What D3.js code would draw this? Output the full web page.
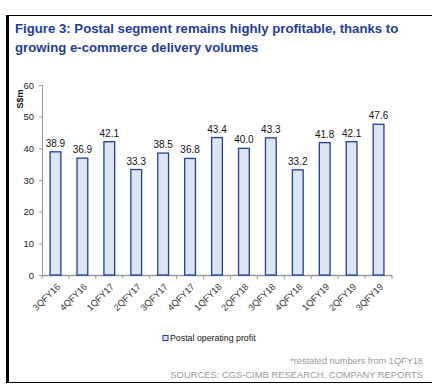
<!DOCTYPE html>
<html>
<head>
<meta charset="utf-8">
<script src="https://cdn.jsdelivr.net/npm/d3@7"></script>
<style>
  body { margin: 0; background: #fff; }
  svg text { font-family: Arial, "Liberation Sans", sans-serif; }
</style>
</head>
<body>
<div id="chart"></div>
<script>
// chart data
var quarters = ["3QFY16", "4QFY16", "1QFY17", "2QFY17", "3QFY17", "4QFY17", "1QFY18",
  "2QFY18", "3QFY18", "4QFY18", "1QFY19", "2QFY19", "3QFY19"];
var profit = [38.9, 36.9, 42.1, 33.3, 38.5, 36.8, 43.4, 40.0, 43.3, 33.2, 41.8, 42.1, 47.6];
var yTicks = [0, 10, 20, 30, 40, 50, 60];

var svgWidth = 432;
var svgHeight = 392;

var svg = d3.select("#chart")
  .append("svg")
  .attr("width", svgWidth)
  .attr("height", svgHeight);

// frame
svg.append("line")
  .attr("x1", 7).attr("x2", svgWidth)
  .attr("y1", 15.5).attr("y2", 15.5)
  .attr("stroke", "#000").attr("stroke-width", 1);
svg.append("line")
  .attr("x1", 7).attr("x2", svgWidth)
  .attr("y1", 382.5).attr("y2", 382.5)
  .attr("stroke", "#000").attr("stroke-width", 1);
svg.append("rect")
  .attr("x", 6).attr("y", 15)
  .attr("width", 3).attr("height", 368)
  .attr("fill", "#000");

// title
var title = svg.append("text")
  .attr("x", 15)
  .attr("fill", "#1f3c96")
  .attr("font-size", 13.2)
  .attr("font-weight", "bold");
title.append("tspan").attr("x", 15).attr("y", 33)
  .text("Figure 3: Postal segment remains highly profitable, thanks to");
title.append("tspan").attr("x", 15).attr("y", 52)
  .text("growing e-commerce delivery volumes");

var x = d3.scaleBand()
  .domain(quarters)
  .range([42, 392])
  .paddingInner(0.6)
  .paddingOuter(0.3);

var y = d3.scaleLinear()
  .domain([0, 60])
  .range([275, 85]);

var chartGroup = svg.append("g");

// y axis
var leftAxis = d3.axisLeft(y).tickValues(yTicks).tickSize(3).tickPadding(5);
var yAxisG = chartGroup.append("g")
  .attr("transform", "translate(42,0)")
  .call(leftAxis);
yAxisG.select(".domain").attr("stroke", "#999");
yAxisG.selectAll(".tick line").attr("stroke", "#999");
yAxisG.selectAll("text").attr("font-size", 9.5).attr("fill", "#222");

// x axis with ticks between categories
var xAxisG = chartGroup.append("g");
xAxisG.append("line")
  .attr("x1", 42).attr("x2", 392)
  .attr("y1", y(0) + 0.5).attr("y2", y(0) + 0.5)
  .attr("stroke", "#999").attr("stroke-width", 1.5);
var step = x.step();
xAxisG.selectAll("line.sep")
  .data(quarters)
  .enter()
  .append("line")
  .attr("class", "sep")
  .attr("x1", (d, i) => i === 0 ? 42 : x(d) - step * 0.3)
  .attr("x2", (d, i) => i === 0 ? 42 : x(d) - step * 0.3)
  .attr("y1", y(0))
  .attr("y2", y(0) + 4)
  .attr("stroke", "#999");
xAxisG.append("line")
  .attr("x1", 392).attr("x2", 392)
  .attr("y1", y(0)).attr("y2", y(0) + 4)
  .attr("stroke", "#999");

xAxisG.selectAll("text.cat")
  .data(quarters)
  .enter()
  .append("text")
  .attr("class", "cat")
  .attr("transform", d => `translate(${x(d) + x.bandwidth() / 2 + 3}, ${y(0) + 10}) rotate(-45)`)
  .attr("text-anchor", "end")
  .attr("dy", "0.35em")
  .attr("font-size", 9.2)
  .attr("fill", "#333")
  .text(d => d);

// bars
chartGroup.selectAll("rect.bar")
  .data(profit)
  .enter()
  .append("rect")
  .attr("class", "bar")
  .attr("x", (d, i) => x(quarters[i]))
  .attr("y", d => y(d))
  .attr("width", x.bandwidth())
  .attr("height", d => y(0) - y(d))
  .attr("fill", "#dce5f1")
  .attr("stroke", "#203f96")
  .attr("stroke-width", 1.3);

// value labels
chartGroup.selectAll("text.val")
  .data(profit)
  .enter()
  .append("text")
  .attr("class", "val")
  .attr("x", (d, i) => x(quarters[i]) + x.bandwidth() / 2)
  .attr("y", d => y(d) - 5)
  .attr("text-anchor", "middle")
  .attr("font-size", 10)
  .attr("fill", "#111")
  .text(d => d.toFixed(1));

// y unit label
svg.append("text")
  .attr("transform", "translate(23, 99) rotate(-90)")
  .attr("text-anchor", "middle")
  .attr("font-size", 9)
  .attr("font-weight", "bold")
  .attr("fill", "#111")
  .text("S$m");

// legend
svg.append("rect")
  .attr("x", 163).attr("y", 335.5)
  .attr("width", 5).attr("height", 5)
  .attr("fill", "#dce5f1")
  .attr("stroke", "#203f96")
  .attr("stroke-width", 1);
svg.append("text")
  .attr("x", 170).attr("y", 341)
  .attr("font-size", 8.8)
  .attr("fill", "#111")
  .text("Postal operating profit");

// footnotes
svg.append("text")
  .attr("x", 423).attr("y", 364)
  .attr("text-anchor", "end")
  .attr("font-size", 9.2)
  .attr("fill", "#999")
  .text("*restated numbers from 1QFY18");
svg.append("text")
  .attr("x", 423).attr("y", 378)
  .attr("text-anchor", "end")
  .attr("font-size", 9.4)
  .attr("fill", "#999")
  .text("SOURCES: CGS-CIMB RESEARCH, COMPANY REPORTS");
</script>
</body>
</html>
